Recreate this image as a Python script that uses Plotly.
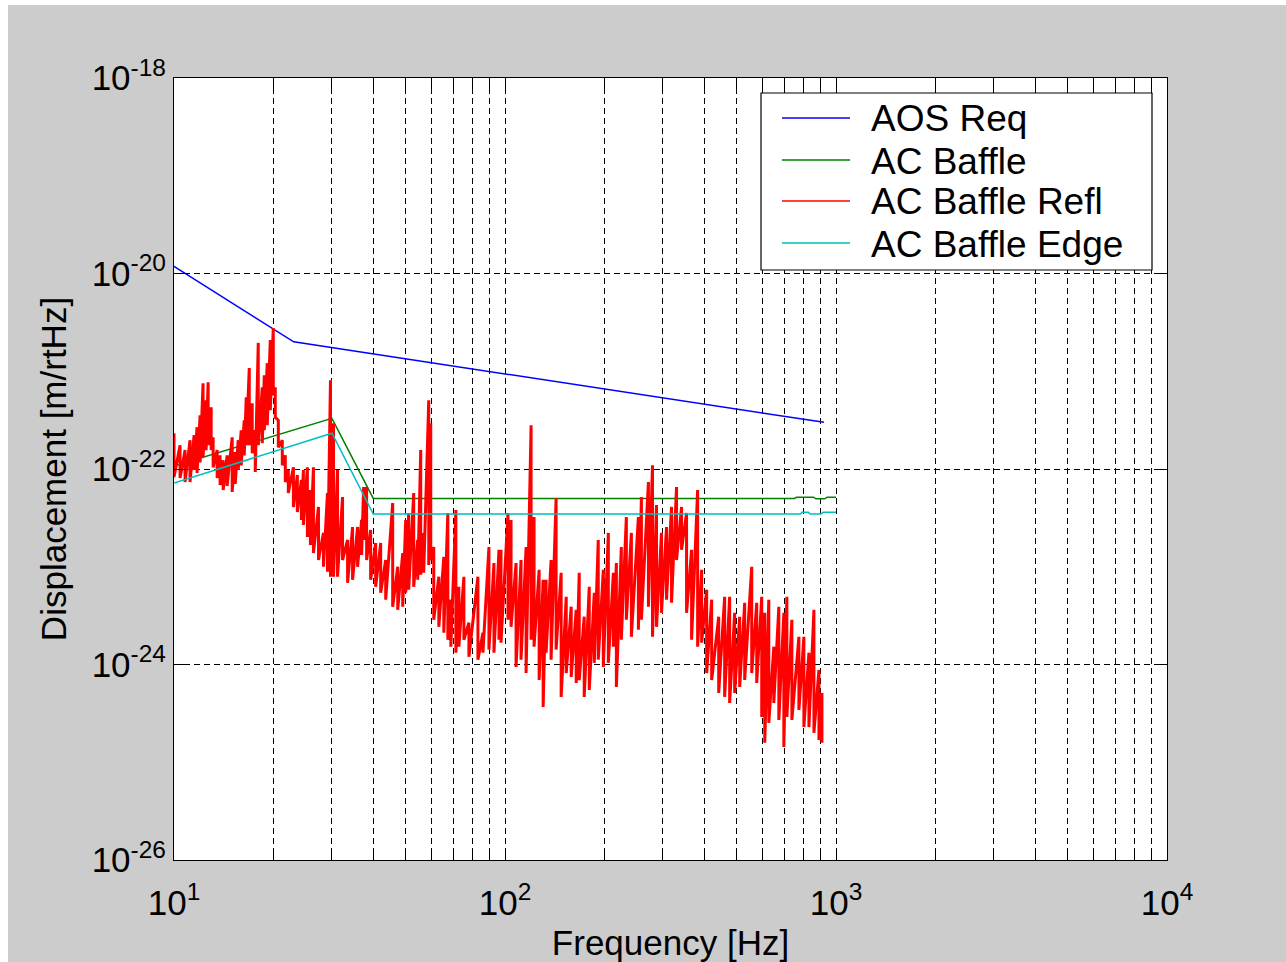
import plotly.graph_objects as go

# ---------------- data ----------------
aos_freq = [10, 23, 920]
aos_disp = [1.18e-20, 2.0e-21, 3.0e-22]

baffle_freq = [10, 30, 40, 750, 760, 855, 870, 925, 940, 1000]
baffle_disp = [1.07e-22, 3.3e-22, 5.0e-23, 5.0e-23, 5.15e-23, 5.15e-23, 4.95e-23, 4.95e-23, 5.15e-23, 5.15e-23]

edge_freq = [10, 30, 40, 780, 790, 825, 835, 900, 915, 1000]
edge_disp = [7.2e-23, 2.32e-22, 3.46e-23, 3.46e-23, 3.6e-23, 3.6e-23, 3.46e-23, 3.46e-23, 3.6e-23, 3.6e-23]

red_freq = [
    10.0, 10.43, 10.80, 11.18, 11.50, 11.74, 11.99, 12.24, 12.50, 12.68,
    12.95, 13.13, 13.50, 13.78, 14.08, 14.47, 14.99, 15.31, 15.63, 15.96,
    16.30, 16.53, 16.88, 17.23, 17.60, 17.97, 18.48, 18.74, 19.13, 19.54,
    19.95, 20.23, 20.66, 21.24, 21.69, 22.15, 22.95, 23.59, 24.26, 24.60,
    25.29, 25.83, 26.38, 27.32, 28.29, 29.09, 29.70, 30.33,
    31.19, 32.30, 33.45, 34.63, 35.86, 36.88, 37.40, 38.19, 39.27, 40.67,
    42.11, 43.61, 45.78, 47.41, 49.09, 50.12, 51.17, 52.99, 54.49, 55.64,
    56.81, 58.83, 59.66, 60.92, 63.10, 65.34, 67.19, 68.61, 71.05, 72.55,
    75.13, 77.80, 82.83, 85.77, 89.43, 92.61, 95.90,
    97.25, 102.1, 104.3, 108.0, 111.8, 115.8, 119.9, 122.4, 126.8, 130.4,
    133.1, 137.8, 142.7, 147.8, 153.1, 158.5, 164.1, 167.6, 173.5, 179.7,
    186.1, 191.3, 198.2, 205.2, 212.5, 217.0, 224.6, 232.6, 240.9, 252.9,
    258.3, 271.2, 279.0, 286.9,
    297.0, 307.6, 318.5, 329.8, 341.5, 353.6, 366.2, 381.9, 392.7, 406.7,
    421.1, 442.2, 460.9, 477.2, 494.1, 511.7, 529.8, 556.4, 576.1, 596.5,
    609.2, 626.6, 648.8, 671.9, 695.7, 710.5, 735.7, 772.6, 799.8, 828.3,
    857.7, 888.1, 906.8,
]

red_upper = [
    2.32e-22, 1.75e-22, 1.56e-22, 1.97e-22, 2.22e-22, 2.68e-22, 3.55e-22, 7.54e-22, 5.05e-22, 7.72e-22,
    4.28e-22, 2.11e-22, 1.56e-22, 1.38e-22, 1.23e-22, 1.38e-22, 2.11e-22, 1.49e-22, 1.97e-22, 2.49e-22,
    3.15e-22, 5.42e-22, 1.08e-21, 4.71e-22, 2.49e-22, 1.95e-21, 6.86e-22, 9.10e-22, 1.21e-21, 2.09e-21,
    2.77e-21, 6.86e-22, 3.15e-22, 1.97e-22, 1.38e-22, 9.77e-23, 1.04e-22, 8.68e-23, 7.72e-23, 9.77e-23,
    1.04e-22, 6.10e-23, 1.04e-22, 4.09e-23, 2.22e-23, 5.68e-23, 8.09e-22, 2.94e-22,
    9.77e-23, 5.17e-23, 1.88e-23, 2.55e-23, 2.55e-23, 3.01e-23, 6.55e-23, 6.55e-23, 2.38e-23, 1.75e-23,
    1.75e-23, 1.17e-23, 4.49e-23, 1.00e-23, 1.38e-23, 3.01e-23, 3.55e-23, 5.68e-23, 1.88e-23, 1.56e-22,
    2.22e-23, 5.05e-22, 2.94e-22, 1.59e-23, 7.90e-24, 1.26e-23, 3.55e-23, 4.60e-24, 3.81e-23, 6.24e-24,
    7.90e-24, 2.68e-24, 7.90e-24, 2.11e-24, 1.59e-23, 1.09e-23, 1.49e-23,
    1.49e-23, 3.55e-23, 3.01e-23, 1.09e-23, 1.17e-23, 1.59e-23, 2.80e-22, 3.23e-23, 9.32e-24, 7.36e-24,
    7.36e-24, 1.17e-23, 5.05e-23, 8.68e-24, 4.93e-24, 3.90e-24, 3.63e-24, 8.68e-24, 3.08e-24, 6.24e-24,
    5.42e-24, 1.88e-23, 9.32e-24, 2.22e-23, 8.68e-24, 1.09e-23, 1.59e-23, 3.23e-23, 2.22e-23, 3.23e-23,
    5.17e-23, 7.36e-23, 1.09e-22, 4.28e-23,
    2.22e-23, 2.55e-23, 4.09e-23, 6.55e-23, 4.09e-23, 3.55e-23, 1.49e-23, 6.10e-23, 9.32e-24, 5.82e-24,
    4.60e-24, 3.08e-24, 4.93e-24, 4.93e-24, 3.38e-24, 3.08e-24, 4.28e-24, 1.00e-23, 4.28e-24, 4.93e-24,
    3.38e-24, 4.60e-24, 1.52e-24, 3.90e-24, 3.38e-24, 4.93e-24, 2.87e-24, 1.92e-24, 1.92e-24, 1.32e-24,
    3.63e-24, 8.79e-25, 5.11e-25,
]

red_lower = [
    8.28e-23, 8.09e-23, 7.36e-23, 7.36e-23, 9.77e-23, 9.10e-23, 1.17e-22, 1.32e-22, 1.56e-22, 1.75e-22,
    1.56e-22, 1.04e-22, 8.09e-23, 6.86e-23, 6.10e-23, 6.70e-23, 5.82e-23, 7.02e-23, 9.77e-23, 1.09e-22,
    1.38e-22, 1.75e-22, 1.75e-22, 1.45e-22, 9.32e-23, 1.75e-22, 1.84e-22, 2.49e-22, 2.80e-22, 3.99e-22,
    5.68e-22, 3.38e-22, 1.67e-22, 1.09e-22, 7.36e-23, 5.68e-23, 4.09e-23, 3.63e-23, 3.01e-23, 2.68e-23,
    2.02e-23, 1.67e-23, 1.38e-23, 1.17e-23, 1.00e-23, 8.89e-24, 7.90e-24, 7.90e-24,
    7.90e-24, 1.17e-23, 6.86e-24, 7.36e-24, 1.00e-23, 1.32e-23, 1.88e-23, 1.17e-23, 7.36e-24, 6.24e-24,
    5.42e-24, 4.60e-24, 3.90e-24, 3.63e-24, 3.90e-24, 5.42e-24, 5.82e-24, 6.24e-24, 7.36e-24, 8.28e-24,
    8.68e-24, 1.04e-23, 1.17e-23, 2.87e-24, 2.43e-24, 2.11e-24, 1.79e-24, 1.52e-24, 1.32e-24, 1.52e-24,
    1.79e-24, 1.20e-24, 1.12e-24, 1.32e-24, 1.42e-24, 1.32e-24, 1.79e-24,
    1.67e-24, 2.87e-24, 2.43e-24, 9.43e-25, 1.12e-24, 8.18e-25, 1.79e-24, 1.52e-24, 6.94e-25, 3.68e-25,
    1.32e-24, 1.12e-24, 1.42e-24, 4.66e-25, 8.18e-25, 7.45e-25, 6.47e-25, 6.94e-25, 4.66e-25, 5.48e-25,
    1.04e-24, 1.12e-24, 9.43e-25, 1.04e-24, 1.52e-24, 5.89e-25, 1.79e-24, 2.87e-24, 1.92e-24, 2.27e-24,
    2.87e-24, 3.90e-24, 1.92e-24, 2.43e-24,
    3.38e-24, 4.60e-24, 4.28e-24, 1.17e-23, 1.49e-23, 3.38e-24, 1.79e-24, 1.52e-24, 1.67e-24, 8.18e-25,
    6.94e-25, 5.11e-25, 4.66e-25, 4.04e-25, 5.11e-25, 5.89e-25, 6.94e-25, 8.18e-25, 6.47e-25, 2.91e-25,
    1.58e-25, 2.52e-25, 4.04e-25, 2.71e-25, 1.43e-25, 2.91e-25, 2.71e-25, 3.43e-25, 2.29e-25, 2.29e-25,
    2.00e-25, 1.69e-25, 1.58e-25,
]

series_names = ["AOS Req", "AC Baffle", "AC Baffle Refl", "AC Baffle Edge"]
series_colors = ["#0000ff", "#008000", "#ff0000", "#00bfbf"]

x_decades = [10, 100, 1000, 10000]
x_tick_labels = ["10<sup>1</sup>", "10<sup>2</sup>", "10<sup>3</sup>", "10<sup>4</sup>"]
y_tick_vals = [1e-26, 1e-24, 1e-22, 1e-20, 1e-18]
y_tick_labels = ["10<sup>-26</sup>", "10<sup>-24</sup>", "10<sup>-22</sup>", "10<sup>-20</sup>", "10<sup>-18</sup>"]

# ---------------- build ----------------
# spectrum drawn as a dense vertical zig-zag between the read upper/lower excursions
red_x, red_y = [], []
for f, hi, lo in zip(red_freq, red_upper, red_lower):
    red_x += [f, f]
    red_y += [hi, lo]

x_tick_vals, x_tick_text = [], []
for d, lab in zip(x_decades[:-1], x_tick_labels[:-1]):
    for m in range(1, 10):
        x_tick_vals.append(d * m)
        x_tick_text.append(lab if m == 1 else "")
x_tick_vals.append(x_decades[-1])
x_tick_text.append(x_tick_labels[-1])

FONT = "Liberation Sans, Arial, sans-serif"

fig = go.Figure()
series_xy = [(aos_freq, aos_disp), (baffle_freq, baffle_disp), (red_x, red_y), (edge_freq, edge_disp)]
for (xs, ys), name, col in zip(series_xy, series_names, series_colors):
    fig.add_trace(go.Scatter(x=xs, y=ys, mode="lines", name=name,
                             line=dict(color=col, width=3.0 if name == "AC Baffle Refl" else 1.5)))

L, R, T, B = 174, 119, 78, 102
W, H = 1286, 962
pw, ph = W - L - R, H - T - B


def px_x(p):
    return (p - L) / pw


def px_y(p):
    return (H - B - p) / ph


shapes = [
    dict(type="rect", xref="paper", yref="paper", x0=px_x(0), x1=px_x(8), y0=px_y(962), y1=px_y(0),
         fillcolor="white", line=dict(width=0), layer="below"),
    dict(type="rect", xref="paper", yref="paper", x0=px_x(0), x1=px_x(1286), y0=px_y(5), y1=px_y(0),
         fillcolor="white", line=dict(width=0), layer="below"),
    # legend box
    dict(type="rect", xref="paper", yref="paper", x0=px_x(761), x1=px_x(1152), y0=px_y(270), y1=px_y(93),
         fillcolor="white", line=dict(color="black", width=1.2), layer="above"),
]
annotations = []
legend_rows = [118, 160, 201, 243]
for row, name, col in zip(legend_rows, series_names, series_colors):
    shapes.append(dict(type="line", xref="paper", yref="paper", x0=px_x(782), x1=px_x(850),
                       y0=px_y(row), y1=px_y(row), line=dict(color=col, width=1.5), layer="above"))
    annotations.append(dict(xref="paper", yref="paper", x=px_x(869), y=px_y(row + 1), text=name,
                            showarrow=False, xanchor="left", yanchor="middle",
                            font=dict(family=FONT, size=37, color="black")))

fig.update_layout(
    width=W, height=H, autosize=False,
    margin=dict(l=L, r=R, t=T, b=B, pad=0, autoexpand=False),
    paper_bgcolor="#cccccc", plot_bgcolor="#ffffff",
    font=dict(family=FONT, size=34, color="black"),
    showlegend=False,
    shapes=shapes,
    annotations=annotations,
)

fig.update_xaxes(
    type="log", range=[1, 4], automargin=False,
    tickmode="array", tickvals=x_tick_vals, ticktext=x_tick_text,
    ticks="inside", ticklen=12, tickcolor="black", tickwidth=1,
    ticklabelstandoff=12,
    showline=True, linecolor="black", linewidth=1, mirror="ticks",
    showgrid=True, gridcolor="black", gridwidth=1, griddash="6px,4px",
    zeroline=False,
    tickfont=dict(family=FONT, size=35, color="black"),
    title=dict(text="Frequency [Hz]", font=dict(family=FONT, size=35, color="black"), standoff=16),
)
fig.update_yaxes(
    type="log", range=[-26, -18], automargin=False,
    tickmode="array", tickvals=y_tick_vals, ticktext=y_tick_labels,
    ticks="inside", ticklen=12, tickcolor="black", tickwidth=1,
    showline=True, linecolor="black", linewidth=1, mirror="ticks",
    showgrid=True, gridcolor="black", gridwidth=1, griddash="6px,4px",
    zeroline=False,
    tickfont=dict(family=FONT, size=35, color="black"),
    title=dict(text="Displacement [m/rtHz]", font=dict(family=FONT, size=35, color="black"), standoff=14),
)

fig.write_html("out.html", config={"responsive": False})
